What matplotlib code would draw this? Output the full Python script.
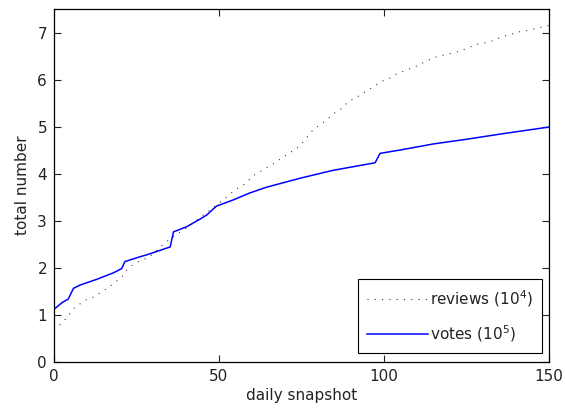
import matplotlib
matplotlib.use("Agg")
import matplotlib.pyplot as plt

# daily snapshot index and totals
rev_x = [0, 2.8, 4.3, 5.9, 7.9, 10.1, 12.2, 14.5, 16.5, 18.7, 20.8, 22.2, 24.3,
         26.6, 28.8, 32.1, 34.1, 36.5, 40.7, 44.5, 49.3, 51.5, 53.6, 55.9, 58.1,
         60.2, 62.4, 64.4, 66.7, 68.5, 70.7, 72.8, 74.8, 76.6, 78.4, 80.4, 82.6,
         84.8, 86.9, 89.2, 91.4, 93.4, 95.6, 97.5, 99.6, 101.8, 103.8, 106.1,
         108.1, 110.4, 112.4, 114.6, 116.8, 119, 121, 123.2, 125.4, 127.6, 129.8,
         131.9, 134.2, 136.2, 138.4, 140.5, 142.7, 144.9, 147, 150]
reviews = [0.68, 0.85, 0.97, 1.13, 1.23, 1.33, 1.38, 1.49, 1.58, 1.70, 1.82, 1.97,
           2.08, 2.16, 2.22, 2.43, 2.55, 2.68, 2.87, 3.08, 3.33, 3.46, 3.58, 3.70,
           3.79, 3.95, 4.04, 4.12, 4.22, 4.31, 4.41, 4.50, 4.61, 4.77, 4.92, 5.03,
           5.14, 5.28, 5.37, 5.53, 5.61, 5.70, 5.79, 5.88, 5.97, 6.03, 6.12, 6.18,
           6.24, 6.30, 6.38, 6.45, 6.50, 6.53, 6.57, 6.61, 6.67, 6.74, 6.77, 6.80,
           6.86, 6.92, 6.96, 7.01, 7.03, 7.07, 7.10, 7.15]

vote_x = [0, 0.8, 2.5, 4.3, 5.9, 7.9, 12.9, 18, 20.5, 21.5, 26, 28, 35.2, 36.2,
          40.2, 44.2, 46.3, 48.3, 49.3, 54.3, 59.4, 64.4, 74.5, 84.6, 97.3, 98.8,
          104.8, 114.9, 125, 135.2, 150]
votes = [1.12, 1.16, 1.26, 1.33, 1.56, 1.63, 1.75, 1.89, 1.98, 2.13, 2.23, 2.27,
         2.44, 2.76, 2.87, 3.03, 3.12, 3.25, 3.31, 3.44, 3.59, 3.71, 3.90, 4.07,
         4.23, 4.43, 4.50, 4.63, 4.73, 4.84, 4.99]

plt.rcParams["font.family"] = ["DejaVu Sans"]
plt.rcParams["mathtext.fontset"] = "dejavusans"

fig = plt.figure(figsize=(5.65, 4.11), dpi=100)
ax = fig.add_axes([54 / 565, 1 - 361.7 / 411, 495 / 565, 352.7 / 411])

ax.plot(rev_x, reviews, color="#222222", lw=0.75, linestyle=(0, (1, 6)),
        label="reviews (10$^{4}$)")
ax.plot(vote_x, votes, color="#0000ff", lw=1.1, label="votes (10$^{5}$)")

ax.set_xlim(0, 150)
ax.set_ylim(0, 7.5)
ax.set_xticks([0, 50, 100, 150])
ax.set_yticks(range(8))
ax.tick_params(direction="in", top=True, right=True, length=5, width=0.8,
               labelsize=11, pad=5, colors="#222222")
for s in ax.spines.values():
    s.set_linewidth(0.9)
ax.set_xlabel("daily snapshot", fontsize=11, labelpad=3, color="#222222")
ax.set_ylabel("total number", fontsize=11, labelpad=5, color="#222222")

leg = ax.legend(loc="lower right", bbox_to_anchor=(0.985, 0.0255),
                borderaxespad=0, fancybox=False, framealpha=1,
                edgecolor="black", fontsize=11, handlelength=4.0,
                handletextpad=0.1, labelspacing=0.9, borderpad=0.6)
leg.get_frame().set_linewidth(0.8)
for t in leg.get_texts():
    t.set_color("#222222")

fig.savefig("out.png", dpi=100)
